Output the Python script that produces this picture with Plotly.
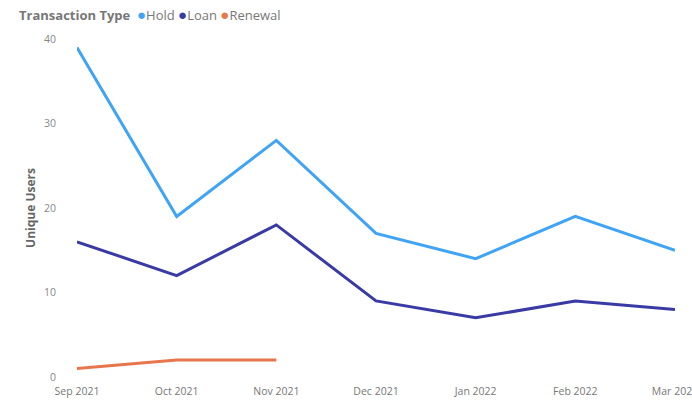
import plotly.graph_objects as go

months = ["Sep 2021", "Oct 2021", "Nov 2021", "Dec 2021", "Jan 2022", "Feb 2022", "Mar 2022"]
hold = [39, 19, 28, 17, 14, 19, 15]
loan = [16, 12, 18, 9, 7, 9, 8]
renewal_months = ["Sep 2021", "Oct 2021", "Nov 2021"]
renewal = [1, 2, 2]
y_ticks = [0, 10, 20, 30, 40]

c_hold = "#3FA4F6"
c_loan = "#3A3AA6"
c_ren = "#E8764C"

fig = go.Figure()
fig.add_trace(go.Scatter(x=months, y=hold, mode="lines", name="Hold",
                         line=dict(color=c_hold, width=3), showlegend=False))
fig.add_trace(go.Scatter(x=months, y=loan, mode="lines", name="Loan",
                         line=dict(color=c_loan, width=3), showlegend=False))
fig.add_trace(go.Scatter(x=renewal_months, y=renewal, mode="lines", name="Renewal",
                         line=dict(color=c_ren, width=3), showlegend=False))

font_fam = "Open Sans, Noto Sans, sans-serif"

legend_text = (
    "<b>Transaction Type</b>  "
    f"<span style='color:{c_hold};font-size:15px'>●</span>Hold "
    f"<span style='color:{c_loan};font-size:15px'>●</span>Loan "
    f"<span style='color:{c_ren};font-size:15px'>●</span>Renewal"
)
fig.add_annotation(text=legend_text, xref="paper", yref="paper",
                   x=-0.1, y=1.0, xanchor="left", yanchor="middle",
                   yshift=25, showarrow=False,
                   font=dict(family=font_fam, size=13, color="#777777"))

fig.update_layout(
    width=692, height=400,
    margin=dict(l=77, r=17, t=39, b=23, autoexpand=False),
    paper_bgcolor="white", plot_bgcolor="white",
    font=dict(family=font_fam, color="#777777", size=11),
    showlegend=False,
    xaxis=dict(type="category", categoryorder="array", categoryarray=months,
               range=[0, 6], showgrid=False, zeroline=False, showline=False,
               ticks="", ticklabelstandoff=6, automargin=False,
               tickfont=dict(size=10.5, color="#777777")),
    yaxis=dict(range=[0, 40], tickvals=y_ticks, showgrid=False, zeroline=False,
               showline=False, ticks="", ticklabelstandoff=20, automargin=False,
               tickfont=dict(size=10.5, color="#888888"),
               title=dict(text="<b>Unique Users</b>", standoff=5,
                          font=dict(size=12, color="#666666"))),
)

fig.write_html("out.html",
               config={"displayModeBar": False},
               post_script="document.body.style.margin='0';document.body.style.overflow='hidden';")
